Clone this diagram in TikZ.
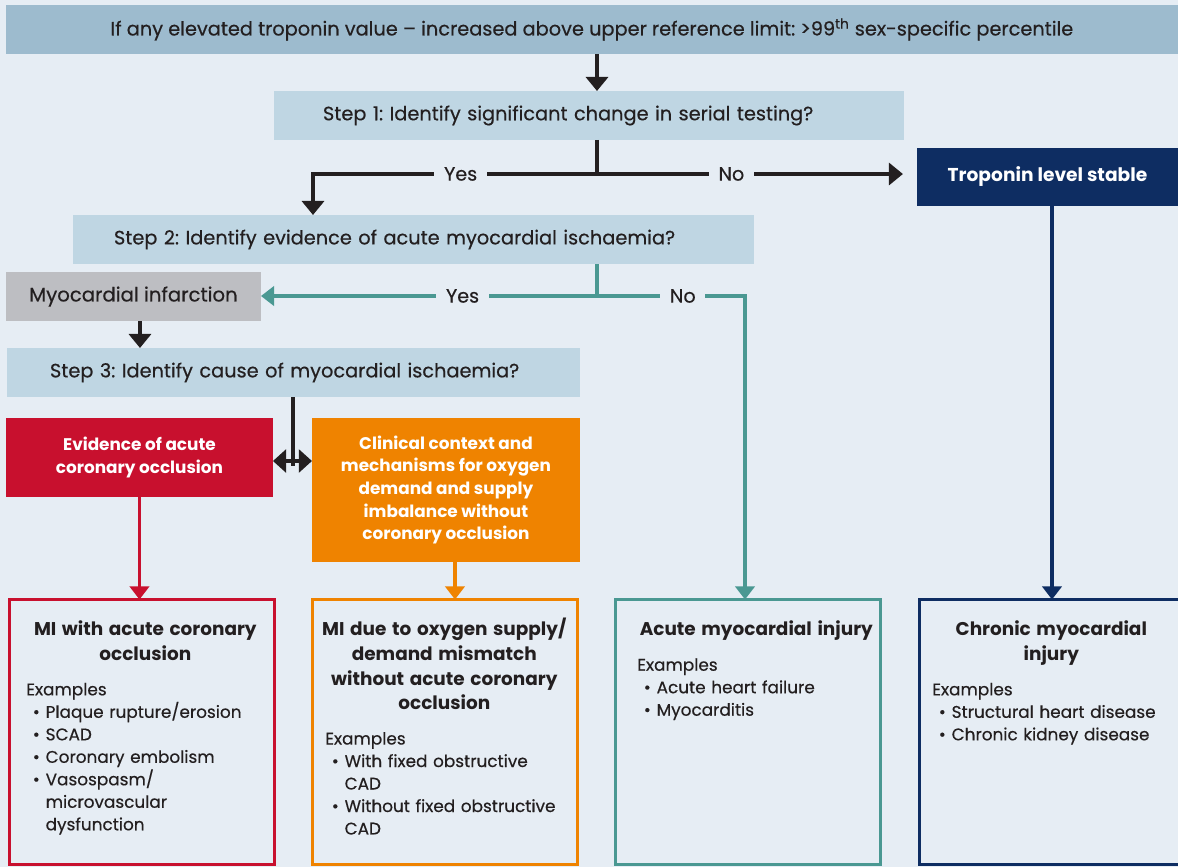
\documentclass[tikz,border=0pt]{standalone}
\usepackage{fontspec}
\setmainfont{Poppins}[UprightFeatures={FakeBold=0.4}]
\usetikzlibrary{arrows.meta}
\usetikzlibrary{positioning}
\frenchspacing

\definecolor{pagebg}{HTML}{E6EDF4}
\definecolor{topblue}{HTML}{9DBBCE}
\definecolor{stepblue}{HTML}{BFD6E3}
\definecolor{migray}{HTML}{BDBEC2}
\definecolor{navy}{HTML}{0E2D62}
\definecolor{occred}{HTML}{C8102E}
\definecolor{supplyorange}{HTML}{EF8300}
\definecolor{injteal}{HTML}{4A9892}
\definecolor{ink}{HTML}{231F20}

\newcommand{\tline}[1]{\par\hbox to\linewidth{\hss#1\hss}}
\newcommand{\outtitle}[1]{{\fontsize{10.5}{14}\selectfont\bfseries #1\par}}
\newcommand{\exhead}{\par\vspace{7pt}\noindent Examples\par}
\newcommand{\exitem}[1]{{\leftskip=3.7pt\hangindent=7.3pt\hangafter=1\noindent\makebox[7.3pt][l]{\textbullet}#1\par}}

\tikzset{
  box/.style={anchor=north west, inner sep=0pt, outer sep=0pt, minimum height=0.98cm},
  stepbox/.style 2 args={box, fill=stepblue, text=ink, align=left, text width=#1, inner xsep=#2, font=\fontsize{11}{13}\selectfont},
  whitebox/.style={box, fill=#1, text=white, align=center, font=\fontsize{9.6}{12.9}\selectfont\bfseries},
  outbox/.style={anchor=north west, draw=#1, line width=1.7pt, inner sep=0pt, outer sep=0pt, minimum width=5.3cm, minimum height=5.31cm},
  outtext/.style={anchor=north west, text=ink, align=left, text width=4.76cm, inner sep=0pt},
  lbl/.style={fill=pagebg, text=ink, inner xsep=5.5pt, inner ysep=1pt, font=\fontsize{10.9}{13}\selectfont},
  flow/.style={draw=ink, line width=2.3pt, -{Triangle[width=12.5pt,length=8pt]}},
  cflow/.style={draw=#1, line width=1.9pt, -{Triangle[width=11pt,length=7.5pt]}}
}

\begin{document}
\begin{tikzpicture}[x=0.02cm, y=-0.02cm, font=\fontsize{9.6}{12.8}\selectfont]
\useasboundingbox (0,0) rectangle (1178,867);
\clip (0,0) rectangle (1178,867);
\fill[pagebg] (0,0) rectangle (1178,867);

\node[box, fill=topblue, text=ink, minimum width=23.44cm, font=\fontsize{11}{13}\selectfont] (top) at (6,5) {If any elevated troponin value – increased above upper reference limit: >99\textsuperscript{th} sex-specific percentile};
\node[stepbox={10.64cm}{0.98cm}] (s1) at (274,91) {Step 1: Identify significant change in serial testing?};
\node[whitebox=navy, minimum width=5.22cm, minimum height=1.16cm, font=\fontsize{10.6}{13}\selectfont\bfseries] (trop) at (917,148) {Troponin level stable};
\node[stepbox={11.98cm}{0.82cm}] (s2) at (73,215) {Step 2: Identify evidence of acute myocardial ischaemia?};
\node[box, fill=migray, text=ink, minimum width=5.1cm, font=\fontsize{11.2}{13}\selectfont] (mi) at (6,272) {Myocardial infarction};
\node[stepbox={9.74cm}{0.86cm}] (s3) at (7,348) {Step 3: Identify cause of myocardial ischaemia?};
\node[whitebox=occred, minimum width=5.34cm, minimum height=1.58cm] (ev) at (6,418) {Evidence of acute\\coronary occlusion};
\node[whitebox=supplyorange, minimum width=5.36cm, minimum height=2.88cm] (clin) at (312,418) {Clinical context and\\mechanisms for oxygen\\demand and supply\\imbalance without\\coronary occlusion};

\node[outbox=occred] (mired) at (9.5,599.5) {};
\node[outbox=supplyorange] (misup) at (312.5,599.5) {};
\node[outbox=injteal] (acute) at (615.5,599.5) {};
\node[outbox=navy] (chronic) at (919.5,599.5) {};

\node[outtext] (t1) at (26,611) {\outtitle{\tline{MI with acute coronary}\tline{occlusion}}\exhead
  \exitem{Plaque rupture/erosion}\exitem{SCAD}\exitem{Coronary embolism}\exitem{Vasospasm/\newline microvascular\newline dysfunction}};
\node[outtext] (t2) at (325,611) {\outtitle{\tline{MI due to oxygen supply/}\tline{demand mismatch}\tline{without acute coronary}\tline{occlusion}}\exhead
  \exitem{With fixed obstructive\newline CAD}\exitem{Without fixed obstructive\newline CAD}};
\node[outtext] (t3) at (637,611) {\outtitle{\tline{Acute myocardial injury}}\exhead
  \exitem{Acute heart failure}\exitem{Myocarditis}};
\node[outtext] (t4) at (932,611) {\outtitle{\tline{Chronic myocardial}\tline{injury}}\exhead
  \exitem{Structural heart disease}\exitem{Chronic kidney disease}};

\coordinate (j0) at (597,0);
\coordinate (j1) at (597,174);
\coordinate (y1) at (313,174);
\coordinate (j2) at (597,296);
\coordinate (k2) at (745,296);
\coordinate (j3) at (293,461);
\coordinate (k3) at (1052,0);

\draw[flow] (top.south -| j0) -- (s1.north -| j0);
\draw[flow] (s1.south -| j1) -- (j1) -- node[lbl, pos=0.48] (yes1) {Yes} (y1) -- (s2.north -| y1);
\draw[flow, shorten >=8pt] (j1) -- node[lbl, pos=0.42] (no1) {No} (trop.west |- j1);
\draw[cflow=navy] (trop.south -| k3) -- (chronic.north -| k3);
\draw[cflow=injteal] (s2.south -| j2) -- (j2) -- node[lbl, pos=0.40] (yes2) {Yes} (mi.east |- j2);
\draw[cflow=injteal] (j2) -- node[lbl, pos=0.58] (no2) {No} (k2) -- (acute.north -| k2);
\draw[flow] ([xshift=0.13cm]mi.south) -- ([xshift=0.13cm]mi.south |- s3.north);
\draw[draw=ink, line width=2.3pt] (s3.south -| j3) -- ([yshift=-0.1cm]j3);
\draw[draw=ink, line width=2.3pt, {Triangle[width=13pt,length=7.5pt]}-{Triangle[width=13pt,length=7.5pt]}] (ev.east |- j3) -- (clin.west |- j3);
\draw[cflow=occred] (ev.south) -- (ev.south |- mired.north);
\draw[cflow=supplyorange] ([xshift=0.18cm]clin.south) -- ([xshift=0.18cm]clin.south |- misup.north);
\end{tikzpicture}
\end{document}
